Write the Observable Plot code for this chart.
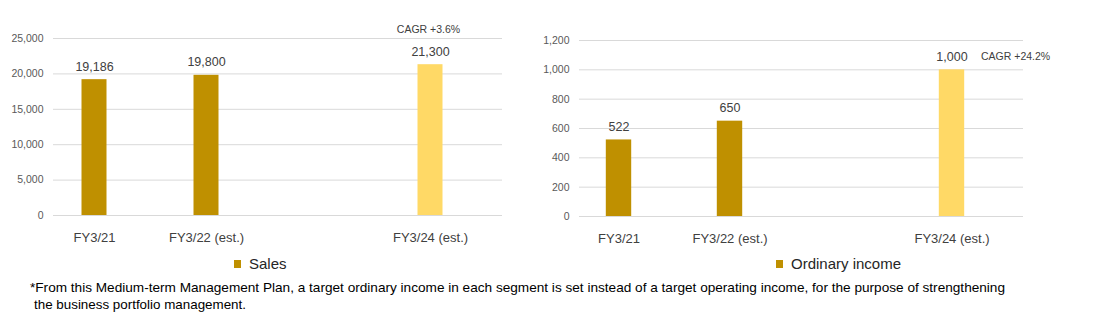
<!DOCTYPE html>
<html><head><meta charset="utf-8">
<script src="https://cdn.jsdelivr.net/npm/d3@7"></script>
<script src="https://cdn.jsdelivr.net/npm/@observablehq/plot@0.6"></script>
<style>
body{margin:0;background:#fff;font-family:"Liberation Sans",Arial,sans-serif;}
#wrap{position:relative;width:1093px;height:322px;overflow:hidden;background:#fff}
.panel{position:absolute;top:0}
.legend{position:absolute;font-size:15px;color:#262626;line-height:18px;white-space:nowrap}
.legend .sw{display:inline-block;width:7px;height:8px;margin-right:8px;vertical-align:1px}
#note{position:absolute;left:0;top:272px}
</style></head>
<body>
<div id="wrap">
  <div class="panel" id="left" style="left:0"></div>
  <div class="panel" id="right" style="left:540px"></div>
  <div class="legend" id="legL" style="left:234px;top:255px"></div>
  <div class="legend" id="legR" style="left:776px;top:255px"></div>
  <svg id="note" width="1093" height="50"></svg>
</div>
<script>
// ---- data ----
const periods = ["FY3/21", "FY3/22 (est.)", "FY3/23", "FY3/24 (est.)"];
const shownPeriods = ["FY3/21", "FY3/22 (est.)", "FY3/24 (est.)"];
const barPeriods = ["FY3/21", "FY3/22 (est.)", "FY3/24 (est.)"];
const barKinds = ["actual", "actual", "target"];
const salesValues = [19186, 19800, 21300];
const incomeValues = [522, 650, 1000];
const salesTicks = [0, 5000, 10000, 15000, 20000, 25000];
const incomeTicks = [0, 200, 400, 600, 800, 1000, 1200];
const salesCagr = "CAGR +3.6%";
const incomeCagr = "CAGR +24.2%";
const salesLabel = "Sales";
const incomeLabel = "Ordinary income";
const noteLines = [
  "*From this Medium-term Management Plan, a target ordinary income in each segment is set instead of a target operating income, for the purpose of strengthening",
  "the business portfolio management."
];
const kindColors = {actual: "#BF9000", target: "#FFD966"};

const fmt = d3.format(",");
const salesData = barPeriods.map((p, i) => ({period: p, value: salesValues[i], kind: barKinds[i]}));
const incomeData = barPeriods.map((p, i) => ({period: p, value: incomeValues[i], kind: barKinds[i]}));

function panel({data, ticks, width, marginLeft, marginRight, marginTop, marginBottom, xRange, inset, cagr, cagrDx, cagrDy, cagrAnchor}) {
  const last = data[data.length - 1];
  return Plot.plot({
    width, height: 250,
    marginLeft, marginRight, marginTop, marginBottom,
    style: {fontFamily: "'Liberation Sans', Arial, sans-serif", background: "#fff"},
    x: {domain: periods, range: xRange, padding: 0, axis: null},
    y: {domain: [ticks[0], ticks[ticks.length - 1]], axis: null},
    color: {domain: Object.keys(kindColors), range: Object.values(kindColors)},
    marks: [
      Plot.gridY(ticks, {stroke: "#d9d9d9", strokeOpacity: 1, strokeWidth: 1}),
      Plot.axisY(ticks, {label: null, tickSize: 0, tickPadding: 10, tickFormat: fmt, fontSize: 10.5, fill: "#595959"}),
      Plot.axisX(shownPeriods, {label: null, tickSize: 0, tickPadding: 17, fontSize: 13, fill: "#404040"}),
      Plot.barY(data, {x: "period", y: "value", fill: "kind", insetLeft: inset, insetRight: inset}),
      Plot.text(data, {x: "period", y: "value", text: d => fmt(d.value), dy: -13, fontSize: 12.5, fill: "#404040"}),
      Plot.text([last], {x: "period", y: "value", text: () => cagr, dx: cagrDx, dy: cagrDy, textAnchor: cagrAnchor, fontSize: 10.5, fill: "#404040"})
    ]
  });
}

document.getElementById("left").appendChild(panel({
  data: salesData, ticks: salesTicks, width: 540,
  marginLeft: 53, marginRight: 38, marginTop: 38, marginBottom: 35,
  xRange: [37.5, 485.5], inset: 43.5, cagr: salesCagr, cagrDx: -2, cagrDy: -35, cagrAnchor: "middle"
}));
document.getElementById("right").appendChild(panel({
  data: incomeData, ticks: incomeTicks, width: 553,
  marginLeft: 39, marginRight: 70, marginTop: 40, marginBottom: 34,
  xRange: [22.4, 467.2], inset: 42.8, cagr: incomeCagr, cagrDx: 29, cagrDy: -13, cagrAnchor: "start"
}));

function legend(id, label, color) {
  const el = document.getElementById(id);
  el.innerHTML = `<span class="sw" style="background:${color}"></span>${label}`;
}
legend("legL", salesLabel, kindColors.actual);
legend("legR", incomeLabel, kindColors.actual);

const note = d3.select("#note");
note.append("text").attr("x", 30).attr("y", 20).attr("font-size", 13).attr("fill", "#000")
  .attr("textLength", 975).attr("lengthAdjust", "spacingAndGlyphs")
  .attr("font-family", "'Liberation Sans', Arial, sans-serif").text(noteLines[0]);
note.append("text").attr("x", 34).attr("y", 37).attr("font-size", 13).attr("fill", "#000")
  .attr("textLength", 212).attr("lengthAdjust", "spacingAndGlyphs")
  .attr("font-family", "'Liberation Sans', Arial, sans-serif").text(noteLines[1]);
</script>
</body></html>
